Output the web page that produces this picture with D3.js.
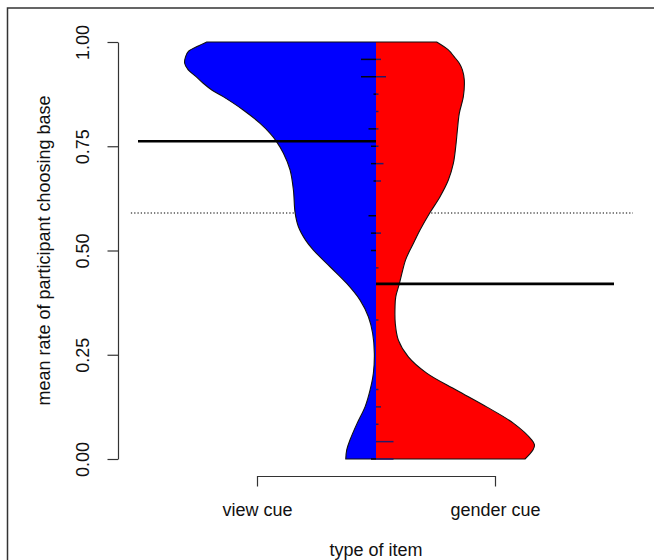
<!DOCTYPE html>
<html>
<head>
<meta charset="utf-8">
<script src="https://cdn.jsdelivr.net/npm/d3@7"></script>
<style>
  html, body { margin: 0; padding: 0; background: #fff; }
  svg { display: block; font-family: "Liberation Sans", Arial, Helvetica, sans-serif; }
</style>
</head>
<body>
<svg id="chart" width="654" height="560"></svg>
<script>
// Categories on the x axis
const categories = ["view cue", "gender cue"];
const yTickValues = [0, 0.25, 0.5, 0.75, 1];

// Bean outlines: [rate, half-width in x-axis units]
const viewCueDensity = [
  [1.000, 0.711], [0.989, 0.752], [0.977, 0.789], [0.965, 0.800], [0.949, 0.804],
  [0.933, 0.789], [0.917, 0.756], [0.901, 0.726], [0.885, 0.690], [0.869, 0.642],
  [0.837, 0.558], [0.805, 0.487], [0.781, 0.445], [0.763, 0.420], [0.733, 0.389],
  [0.693, 0.361], [0.645, 0.347], [0.591, 0.340], [0.557, 0.326], [0.525, 0.296],
  [0.501, 0.263], [0.461, 0.193], [0.421, 0.123], [0.381, 0.067], [0.341, 0.032],
  [0.301, 0.014], [0.253, 0.007], [0.206, 0.011], [0.165, 0.025], [0.125, 0.046],
  [0.086, 0.079], [0.046, 0.109], [0.022, 0.123], [0.000, 0.127]
];
const genderCueDensity = [
  [1.000, 0.255], [0.981, 0.304], [0.965, 0.328], [0.949, 0.350], [0.933, 0.363],
  [0.909, 0.371], [0.869, 0.367], [0.829, 0.350], [0.789, 0.342], [0.749, 0.335],
  [0.709, 0.325], [0.669, 0.304], [0.629, 0.269], [0.591, 0.227], [0.549, 0.185],
  [0.525, 0.164], [0.501, 0.143], [0.477, 0.124], [0.420, 0.098], [0.389, 0.083],
  [0.365, 0.080], [0.325, 0.081], [0.285, 0.094], [0.245, 0.136], [0.206, 0.213],
  [0.165, 0.339], [0.125, 0.465], [0.086, 0.577], [0.046, 0.654], [0.034, 0.666],
  [0.022, 0.660], [0.010, 0.643], [0.000, 0.626]
];

// Number of participants at each score out of 24 items (index = items chosen)
const itemsPerParticipant = 24;
const viewCueCounts   = [2,0,0,0,0,0,0,0,0,0,0,0,2,2,3,0,1,2,2,3,0,1,6,6,0];
const genderCueCounts = [7,7,1,2,1,0,0,0,1,0,0,1,0,2,0,0,2,3,1,1,1,1,4,2,0];

// Group means and overall mean
const viewCueMean = 0.762;
const genderCueMean = 0.42;
const overallMean = 0.59;

const svg = d3.select("#chart");

// Outer frame
svg.append("rect")
  .attr("x", 7.5).attr("y", 8).attr("width", 660).attr("height", 570)
  .attr("fill", "none").attr("stroke", "#333").attr("stroke-width", 1.5);

const x = d3.scaleLinear().domain([1, 2]).range([257, 495]);
const y = d3.scaleLinear().domain([0, 1]).range([459, 42]);
const beanCenter = 1.5;
const beanlineUnit = 0.0105;

// Overall mean (dotted, behind the beans)
svg.append("line")
  .attr("x1", x(0.47)).attr("x2", x(2.58))
  .attr("y1", y(overallMean)).attr("y2", y(overallMean))
  .attr("stroke", "#000").attr("stroke-width", 1.1)
  .attr("stroke-dasharray", "1.3,2");

function drawBean(data, side, fill) {
  const xc = x(beanCenter);
  const outer = d3.line()
    .x(d => x(beanCenter + side * d[1]))
    .y(d => y(d[0]))
    .curve(d3.curveCatmullRom.alpha(0.5));
  const curvePath = outer(data);
  const top = y(data[0][0]);
  const bottom = y(data[data.length - 1][0]);
  const body = `M${xc},${top}L` + curvePath.slice(1) + `L${xc},${bottom}`;
  svg.append("path").attr("d", body + "Z").attr("fill", fill).attr("stroke", "none");
  svg.append("path").attr("d", body)
    .attr("fill", "none").attr("stroke", "#111").attr("stroke-width", 1.1);
}

drawBean(viewCueDensity, -1, "#0000ff");
drawBean(genderCueDensity, 1, "#ff0000");

function drawBeanlines(counts, side, color) {
  svg.append("g").selectAll("line")
    .data(counts.map((c, k) => ({ rate: k / itemsPerParticipant, count: c })).filter(d => d.count > 0))
    .join("line")
    .attr("x1", x(beanCenter))
    .attr("x2", d => x(beanCenter + side * d.count * beanlineUnit))
    .attr("y1", d => y(d.rate)).attr("y2", d => y(d.rate))
    .attr("stroke", color).attr("stroke-width", 1.5);
}
drawBeanlines(viewCueCounts, -1, "#050510");
drawBeanlines(genderCueCounts, 1, "#241a68");

// Group mean lines
svg.append("line")
  .attr("x1", x(0.5)).attr("x2", x(beanCenter))
  .attr("y1", y(viewCueMean)).attr("y2", y(viewCueMean))
  .attr("stroke", "#000").attr("stroke-width", 2.6);
svg.append("line")
  .attr("x1", x(beanCenter)).attr("x2", x(2.5))
  .attr("y1", y(genderCueMean)).attr("y2", y(genderCueMean))
  .attr("stroke", "#000").attr("stroke-width", 2.6);

// Y axis
const yAxis = svg.append("g")
  .attr("transform", "translate(118,0)")
  .call(d3.axisLeft(y).tickValues(yTickValues).tickFormat(d3.format(".2f"))
    .tickSize(10.5).tickSizeOuter(0));
yAxis.selectAll("path, line").attr("stroke", "#333").attr("stroke-width", 1.2);
yAxis.selectAll("text")
  .attr("transform", "rotate(-90)")
  .attr("x", 0).attr("y", -29.5).attr("dy", 0)
  .attr("text-anchor", "middle")
  .attr("font-size", 18).attr("font-family", "Liberation Sans, Arial, sans-serif")
  .attr("fill", "#111");

// X axis
const xAxis = svg.append("g")
  .attr("transform", "translate(0,476)")
  .call(d3.axisBottom(x).tickValues([1, 2]).tickFormat(d => categories[d - 1])
    .tickSize(10.5).tickSizeOuter(0));
xAxis.selectAll("path, line").attr("stroke", "#333").attr("stroke-width", 1.2);
xAxis.selectAll("text")
  .attr("y", 40).attr("dy", 0)
  .attr("font-size", 18).attr("font-family", "Liberation Sans, Arial, sans-serif")
  .attr("fill", "#111");

// Axis titles
svg.append("text")
  .attr("x", x(beanCenter)).attr("y", 556)
  .attr("text-anchor", "middle").attr("font-size", 18).attr("fill", "#111")
  .text("type of item");
svg.append("text")
  .attr("transform", `translate(50,${(y(0) + y(1)) / 2}) rotate(-90)`)
  .attr("text-anchor", "middle").attr("font-size", 18).attr("fill", "#111")
  .text("mean rate of participant choosing base");
</script>
</body>
</html>
